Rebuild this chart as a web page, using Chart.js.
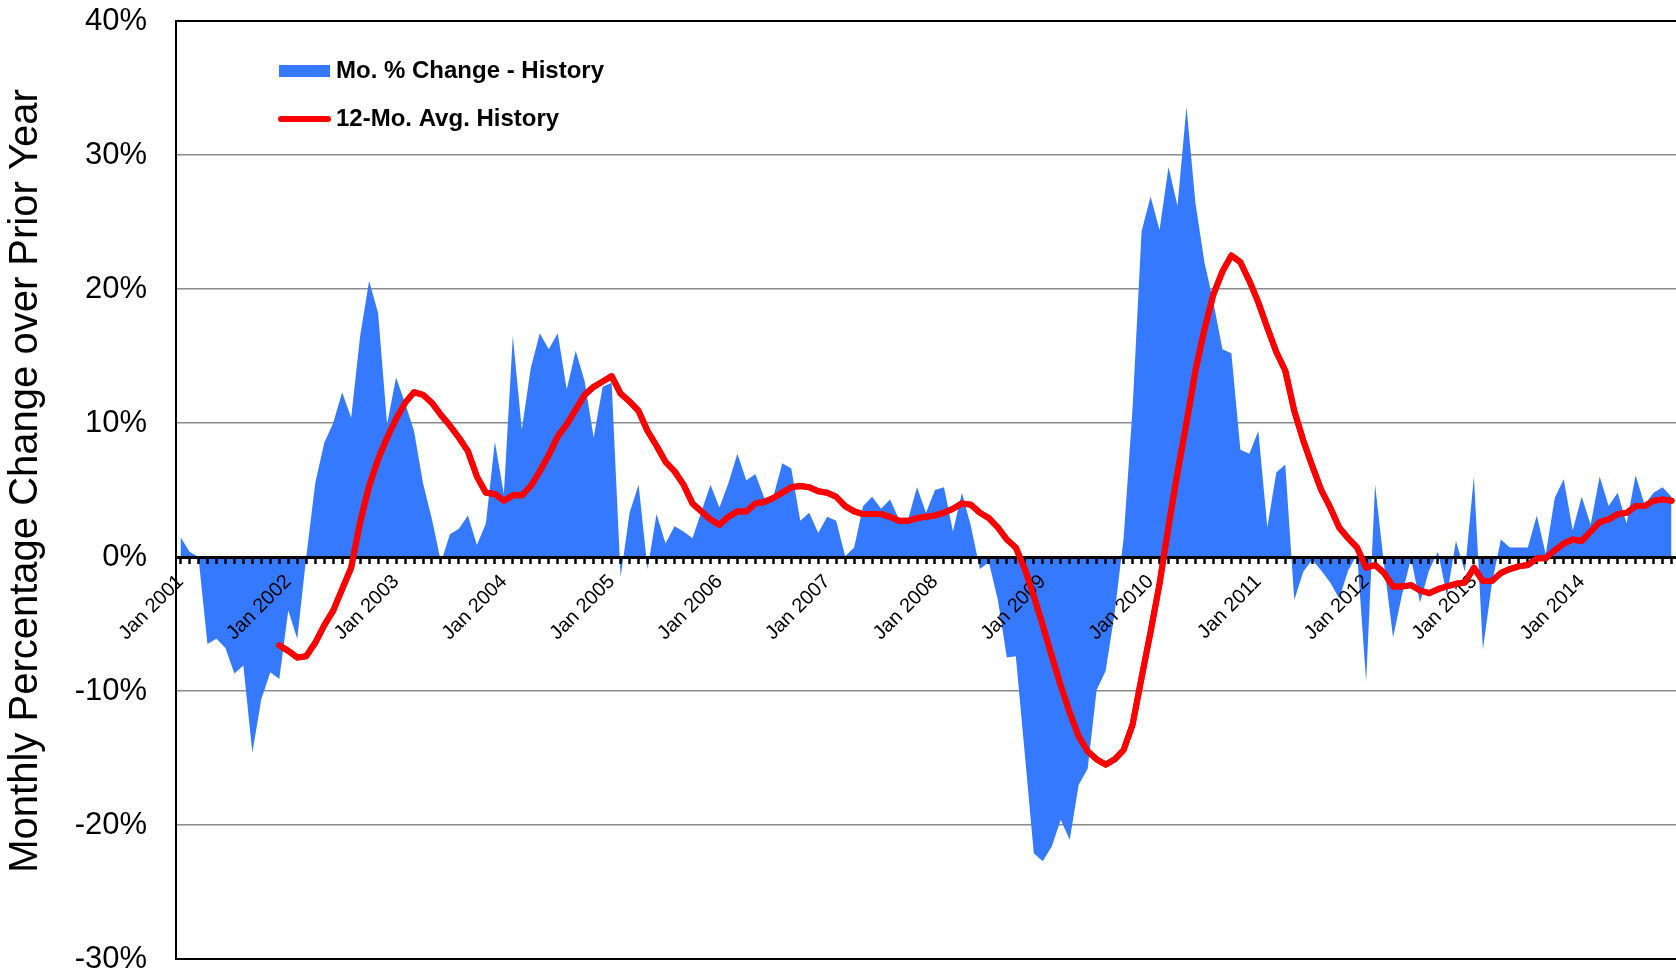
<!DOCTYPE html>
<html><head><meta charset="utf-8">
<script src="https://cdn.jsdelivr.net/npm/chart.js@4/dist/chart.umd.min.js"></script>
<style>html,body{margin:0;padding:0;background:#fff;}canvas{display:block;}</style>
</head><body>
<canvas id="c" width="1676" height="973"></canvas>
<script>
const monthNames = ['Jan','Feb','Mar','Apr','May','Jun','Jul','Aug','Sep','Oct','Nov','Dec'];
const years = [2001,2002,2003,2004,2005,2006,2007,2008,2009,2010,2011,2012,2013,2014];
const monthCount = 167; // Jan 2001 .. Nov 2014
const categories = [];
years.forEach(y => monthNames.forEach(m => categories.push(m + ' ' + y)));
categories.length = monthCount;

const seriesLabels = ['Mo. % Change - History', '12-Mo. Avg. History'];
const yAxisTitle = 'Monthly Percentage Change over Prior Year';
const yTicks = [-30, -20, -10, 0, 10, 20, 30, 40];

const monthlyChange = [
 1.5, 0.4, 0.0, -6.5, -6.1, -6.8, -8.7, -8.1, -14.6, -10.6, -8.6, -9.1,
 -4.0, -6.1, 0.0, 5.5, 8.5, 10.0, 12.3, 10.4, 16.5, 20.6, 18.2, 9.9,
 13.4, 11.5, 9.4, 5.5, 2.8, -0.4, 1.7, 2.1, 3.1, 0.9, 2.5, 8.6,
 4.7, 16.5, 9.5, 14.1, 16.7, 15.5, 16.7, 12.5, 15.4, 13.1, 8.9, 12.7,
 13.0, -1.5, 3.3, 5.4, -0.9, 3.2, 1.0, 2.3, 1.9, 1.4, 3.4, 5.4,
 3.7, 5.5, 7.7, 5.7, 6.2, 4.4, 4.5, 7.0, 6.6, 2.7, 3.3, 1.8,
 3.0, 2.7, 0.05, 0.7, 3.8, 4.5, 3.6, 4.3, 2.8, 2.8, 5.2, 3.3,
 5.0, 5.2, 1.9, 4.8, 2.3, -0.9, -0.4, -3.2, -7.5, -7.4, -14.7, -22.1,
 -22.7, -21.6, -19.6, -21.1, -17.0, -15.8, -9.9, -8.5, -4.2, 1.4, 11.1, 24.3,
 26.9, 24.4, 29.1, 26.2, 33.6, 26.4, 22.0, 19.0, 15.5, 15.2, 8.0, 7.7,
 9.4, 2.2, 6.3, 6.9, -3.2, -1.1, -0.2, -1.0, -1.9, -3.1, -1.0, 0.2,
 -9.3, 5.4, -0.6, -6.0, -2.8, -0.1, -3.4, -1.0, 0.4, -2.9, 1.2, -1.1,
 6.0, -6.9, -2.0, 1.3, 0.7, 0.7, 0.7, 3.1, 0.2, 4.4, 5.8, 2.0,
 4.5, 2.4, 6.0, 3.8, 4.8, 2.5, 6.1, 3.9, 4.8, 5.2, 4.5
];

const avg12 = [
 null, null, null, null, null, null, null, null, null, null, null, -6.6,
 -7.0, -7.5, -7.4, -6.4, -5.1, -4.0, -2.4, -0.8, 2.6, 5.3, 7.3, 8.9,
 10.3, 11.5, 12.3, 12.1, 11.5, 10.6, 9.8, 8.9, 7.9, 6.0, 4.8, 4.7,
 4.2, 4.6, 4.6, 5.3, 6.4, 7.6, 9.0, 9.9, 11.0, 12.1, 12.7, 13.1,
 13.5, 12.2, 11.6, 10.9, 9.4, 8.3, 7.1, 6.4, 5.4, 4.0, 3.4, 2.8,
 2.4, 3.0, 3.4, 3.4, 4.0, 4.1, 4.4, 4.8, 5.2, 5.3, 5.2, 4.9,
 4.8, 4.5, 3.8, 3.4, 3.2, 3.2, 3.2, 3.0, 2.7, 2.7, 2.9, 3.0,
 3.1, 3.3, 3.6, 4.0, 3.9, 3.3, 2.9, 2.2, 1.3, 0.7, -0.9, -2.9,
 -5.1, -7.4, -9.6, -11.6, -13.4, -14.5, -15.1, -15.5, -15.1, -14.4, -12.5, -9.0,
 -5.6, -2.0, 2.3, 6.3, 10.0, 13.9, 17.0, 19.6, 21.3, 22.5, 22.0, 20.6,
 19.0, 17.1, 15.3, 13.9, 10.9, 8.7, 6.8, 5.0, 3.7, 2.2, 1.4, 0.7,
 -0.8, -0.6, -1.2, -2.2, -2.2, -2.1, -2.5, -2.7, -2.4, -2.2, -2.0, -1.9,
 -0.8, -1.8, -1.8, -1.2, -0.9, -0.7, -0.6, -0.1, -0.1, 0.5, 1.0, 1.3,
 1.2, 1.9, 2.6, 2.8, 3.2, 3.3, 3.8, 3.8, 4.2, 4.3, 4.2
];

const FONT = '"Liberation Sans", Arial, Helvetica, sans-serif';

const redOnTop = {
  id: 'redOnTop',
  afterDraw(chart) {
    const meta = chart.getDatasetMeta(1);
    const a = chart.chartArea, ctx = chart.ctx;
    ctx.save();
    ctx.beginPath();
    ctx.rect(a.left, a.top - 5, a.right - a.left, a.bottom - a.top + 10);
    ctx.clip();
    meta.controller.draw();
    ctx.restore();
  }
};

const axisTitle = {
  id: 'axisTitle',
  afterDraw(chart) {
    const ctx = chart.ctx;
    ctx.save();
    ctx.font = '40px ' + FONT;
    ctx.fillStyle = '#000';
    ctx.textAlign = 'center';
    ctx.textBaseline = 'middle';
    ctx.translate(26, 481);
    ctx.rotate(-Math.PI / 2);
    ctx.fillText(yAxisTitle, 0, 0);
    ctx.restore();
  }
};

const customLegend = {
  id: 'customLegend',
  afterDraw(chart) {
    const ctx = chart.ctx, ds = chart.data.datasets;
    ctx.save();
    ctx.font = 'bold 24px ' + FONT;
    ctx.textBaseline = 'middle';
    ctx.textAlign = 'left';
    ctx.fillStyle = ds[0].backgroundColor;
    ctx.fillRect(279, 65, 51, 12);
    ctx.fillStyle = '#000';
    ctx.fillText(ds[0].label, 336, 71);
    ctx.strokeStyle = ds[1].borderColor;
    ctx.lineWidth = 6;
    ctx.lineCap = 'round';
    ctx.beginPath();
    ctx.moveTo(281, 119);
    ctx.lineTo(328, 119);
    ctx.stroke();
    ctx.fillStyle = '#000';
    ctx.fillText(ds[1].label, 336, 119);
    ctx.restore();
  }
};

new Chart(document.getElementById('c'), {
  type: 'line',
  data: {
    labels: categories,
    datasets: [
      {
        label: seriesLabels[0],
        data: monthlyChange,
        fill: 'origin',
        backgroundColor: '#3479FF',
        borderColor: 'rgba(0,0,0,0)',
        borderWidth: 0,
        pointRadius: 0,
        tension: 0,
        order: 2
      },
      {
        label: seriesLabels[1],
        data: avg12,
        fill: false,
        borderColor: '#FF0000',
        backgroundColor: '#FF0000',
        borderWidth: 6,
        borderJoinStyle: 'round',
        borderCapStyle: 'round',
        pointRadius: 0,
        tension: 0,
        spanGaps: false,
        order: 1
      }
    ]
  },
  options: {
    responsive: false,
    animation: false,
    devicePixelRatio: 1,
    layout: { padding: { top: 21, bottom: 14, left: 0, right: 0 } },
    plugins: { legend: { display: false }, tooltip: { enabled: false } },
    scales: {
      x: {
        type: 'category',
        position: { y: 0 },
        offset: true,
        border: { display: true, color: '#000', width: 3, z: 1 },
        grid: { drawOnChartArea: false, drawTicks: true, tickLength: 5, tickWidth: 2.5, tickColor: '#000', offset: false, z: 1 },
        ticks: {
          z: 1,
          autoSkip: false,
          maxRotation: 45,
          minRotation: 45,
          padding: 8,
          color: '#000',
          font: { family: FONT, size: 20 },
          callback: function(value) {
            const lab = this.getLabelForValue(value);
            return lab.startsWith('Jan') ? lab : '';
          }
        },
        afterFit(scale) { scale.paddingLeft = 0; scale.paddingRight = 0; }
      },
      y: {
        min: -30,
        max: 40,
        afterBuildTicks(scale) { scale.ticks = yTicks.map(v => ({ value: v })); },
        border: { display: true, color: '#000', width: 2 },
        grid: {
          drawTicks: false,
          color: ctx => (ctx.tick.value === 40 || ctx.tick.value === -30) ? '#000' : '#8a8a8a',
          lineWidth: ctx => (ctx.tick.value === 40 || ctx.tick.value === -30) ? 2 : 1.5
        },
        ticks: {
          padding: 29,
          color: '#000',
          font: { family: FONT, size: 31 },
          callback: v => v + '%'
        },
        title: { display: false },
        afterFit(scale) { scale.width = 176; scale.paddingTop = 0; scale.paddingBottom = 0; }
      }
    }
  },
  plugins: [redOnTop, axisTitle, customLegend]
});
</script>
</body></html>
